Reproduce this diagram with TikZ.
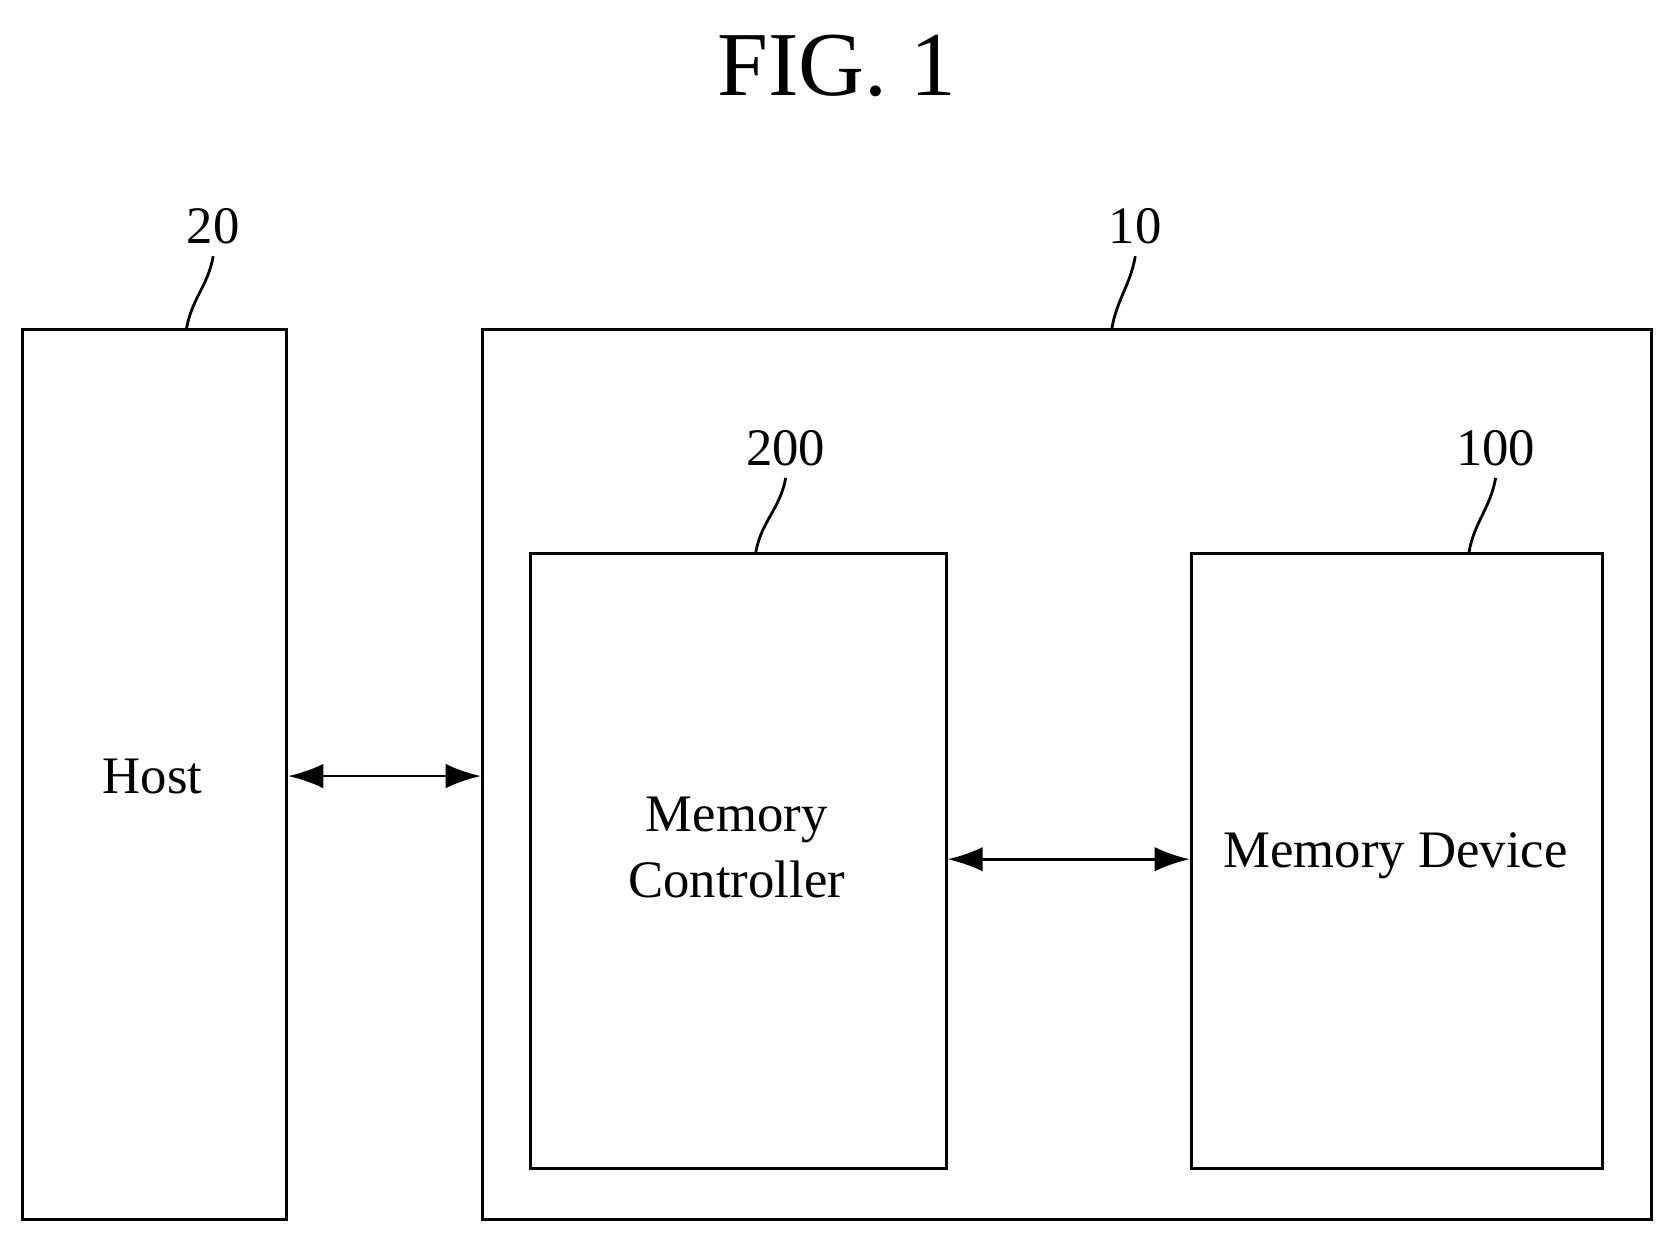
\documentclass[tikz,border=0pt]{standalone}
\usepackage{fontspec}
\setmainfont{Liberation Serif}
\usetikzlibrary{arrows.meta,positioning}
\tikzstyle{box}=[draw,thick,inner sep=0pt]
\tikzstyle{biarrow}=[{Latex[length=10pt,width=7pt]}-{Latex[length=10pt,width=7pt]},thick]
\tikzstyle{lead}=[thick]
\tikzstyle{refnum}=[font=\fontsize{15}{17}\selectfont]
\tikzstyle{label}=[font=\fontsize{15}{19}\selectfont,align=center]

\begin{document}
\begin{tikzpicture}[x=1.066cm,y=1.066cm]
\useasboundingbox (0,0) rectangle (15.6,-11.61);

\node (title) at (7.85,-0.62) {\fontsize{26}{30}\selectfont FIG. 1};

% boxes
\node (host) [box,minimum width=2.64cm,minimum height=8.90cm,anchor=north west] at (0.20,-3.08) {};
\node (sys)  [box,minimum width=11.69cm,minimum height=8.90cm,anchor=north west] at (4.51,-3.08) {};
\node (mc)   [box,minimum width=4.16cm,minimum height=6.15cm,anchor=north west] at (4.96,-5.18) {};
\node (md)   [box,minimum width=4.11cm,minimum height=6.15cm,anchor=north west] at (11.16,-5.18) {};

\node [label] at (1.43,-7.28) {Host};
\node [label] at (6.91,-7.95) {Memory\\ Controller};
\node [label] at (13.09,-8.03) {Memory Device};

% reference numerals
\node (n20)  [refnum] at (2.00,-2.12) {20};
\node (n10)  [refnum] at (10.65,-2.12) {10};
\node (n200) [refnum] at (7.37,-4.20) {200};
\node (n100) [refnum] at (14.03,-4.20) {100};
\draw[lead] (n20.south)  to[out=-100,in=80] (1.75,-3.08);
\draw[lead] (n10.south)  to[out=-100,in=80] (10.43,-3.08);
\draw[lead] (n200.south) to[out=-100,in=80] (7.09,-5.18);
\draw[lead] (n100.south) to[out=-100,in=80] (13.78,-5.18);

% connectors
\draw[biarrow] (host.east |- 0,-7.28) -- (sys.west |- 0,-7.28);
\draw[biarrow] (mc.east |- 0,-8.06) -- (md.west |- 0,-8.06);
\end{tikzpicture}
\end{document}
